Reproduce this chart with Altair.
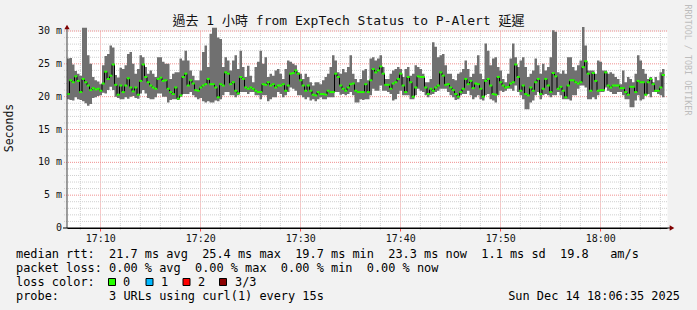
import altair as alt
import pandas as pd

# ---------------- data ----------------
START = pd.Timestamp("2025-12-14 17:06:40")
STEP_S = 15

median_ms = [
    20.4, 22.5, 22.2, 23.1, 22.4, 20.7, 22.7, 22.2, 21.7, 21.0,
    21.3, 21.1, 21.2, 20.9, 22.0, 23.8, 22.7, 23.2, 24.9, 21.8,
    20.3, 21.7, 20.7, 21.7, 22.8, 21.4, 20.8, 21.4, 20.3, 22.4,
    24.9, 23.0, 22.2, 21.7, 21.4, 21.2, 22.7, 22.9, 22.4, 22.5,
    21.2, 20.7, 20.4, 21.4, 19.7, 20.2, 23.0, 23.5, 21.7, 22.5,
    22.0, 21.0, 20.9, 21.4, 21.7, 21.9, 22.7, 21.9, 21.9, 21.4,
    19.9, 21.9, 21.7, 23.7, 23.5, 21.9, 22.2, 20.9, 20.5, 23.0,
    22.7, 21.4, 21.2, 21.4, 21.2, 20.9, 20.7, 20.7, 21.9, 21.8,
    22.2, 21.7, 21.9, 21.4, 21.7, 21.7, 21.9, 20.9, 21.7, 23.5,
    23.6, 24.0, 23.5, 22.5, 21.7, 20.9, 21.7, 20.9, 20.3, 20.2,
    20.7, 20.4, 20.4, 20.3, 20.9, 20.7, 20.7, 23.5, 23.0, 21.7,
    21.2, 20.9, 21.4, 21.9, 22.0, 20.9, 20.7, 20.7, 20.7, 21.9,
    20.7, 22.5, 24.2, 23.7, 24.0, 24.6, 23.5, 21.8, 21.8, 21.2,
    22.0, 22.2, 22.7, 23.5, 21.7, 20.7, 23.0, 22.2, 20.0, 21.4,
    23.1, 23.0, 23.0, 21.4, 20.4, 21.2, 20.9, 21.4, 21.7, 23.7,
    23.2, 21.8, 21.9, 21.4, 21.0, 20.4, 20.0, 20.7, 21.2, 22.7,
    21.9, 22.4, 21.3, 22.0, 21.9, 21.2, 20.0, 22.4, 22.7, 21.7,
    20.4, 20.3, 23.0, 22.2, 21.7, 21.4, 21.5, 22.0, 22.2, 24.9,
    23.0, 20.9, 21.7, 20.4, 20.2, 21.4, 20.9, 22.2, 22.7, 20.4,
    21.2, 22.7, 21.7, 20.7, 23.6, 23.1, 21.2, 21.5, 20.9, 19.9,
    21.7, 22.5, 22.5, 22.2, 22.0, 22.2, 24.5, 25.4, 23.5, 20.9,
    23.6, 22.4, 20.9, 21.0, 21.0, 23.7, 21.7, 21.4, 21.7, 21.7,
    21.7, 21.3, 21.3, 20.7, 20.3, 21.5, 21.5, 20.7, 22.4, 22.2,
    22.2, 20.3, 22.2, 22.7, 21.9, 20.9, 20.9, 21.4, 23.3,
]

low_ms = [
    19.6, 19.5, 19.4, 19.9, 19.6, 19.5, 19.3, 19.0, 18.6, 18.9,
    19.8, 19.9, 20.1, 20.2, 20.6, 20.5, 21.0, 21.5, 21.0, 20.0,
    19.8, 19.6, 19.6, 19.9, 19.7, 20.0, 20.1, 19.8, 19.7, 20.5,
    21.0, 20.5, 19.8, 19.6, 19.6, 19.9, 20.5, 20.5, 20.0, 20.0,
    19.1, 19.5, 19.6, 19.6, 19.5, 20.0, 20.4, 20.4, 20.4, 20.7,
    20.2, 19.9, 19.6, 19.8, 19.3, 19.1, 19.3, 19.1, 19.1, 19.4,
    19.3, 19.6, 20.2, 20.7, 20.7, 20.2, 20.2, 19.9, 20.2, 20.7,
    20.7, 20.7, 20.4, 20.7, 20.7, 20.2, 20.2, 19.6, 20.2, 20.2,
    19.3, 19.6, 19.9, 19.9, 20.7, 20.4, 19.9, 20.2, 20.7, 21.4,
    21.2, 20.9, 20.2, 20.2, 19.9, 19.6, 19.9, 19.4, 19.6, 19.3,
    19.6, 19.9, 19.6, 19.6, 19.9, 19.9, 19.9, 20.7, 20.7, 20.3,
    20.4, 20.2, 20.4, 20.7, 20.2, 19.1, 19.1, 19.6, 19.5, 19.6,
    19.6, 20.2, 21.2, 20.9, 20.9, 21.7, 20.9, 20.9, 20.7, 20.4,
    19.4, 19.6, 20.4, 20.9, 20.2, 20.2, 20.2, 19.6, 19.6, 20.2,
    21.2, 20.9, 20.7, 20.2, 19.9, 20.3, 20.4, 20.7, 20.9, 21.2,
    21.2, 21.2, 20.7, 20.2, 19.9, 19.5, 19.6, 20.2, 20.4, 20.4,
    20.9, 20.2, 19.6, 19.9, 20.2, 19.6, 19.4, 20.2, 20.4, 19.6,
    19.4, 19.1, 20.2, 20.9, 20.7, 20.9, 21.2, 21.2, 20.9, 21.7,
    20.7, 20.2, 19.6, 18.1, 18.1, 19.1, 19.4, 20.2, 20.7, 19.6,
    20.2, 20.4, 20.2, 19.9, 20.2, 20.2, 20.7, 20.2, 19.6, 19.6,
    19.6, 19.4, 20.2, 20.2, 21.2, 21.7, 21.7, 21.4, 19.6, 19.6,
    19.9, 19.6, 20.2, 20.7, 20.7, 21.4, 20.9, 20.7, 20.4, 20.4,
    20.7, 20.7, 20.2, 19.6, 19.6, 18.4, 18.4, 19.4, 20.2, 19.4,
    19.6, 20.2, 20.4, 19.9, 20.7, 20.7, 20.4, 20.2, 19.9,
]

high_ms = [
    25.8, 25.9, 24.9, 23.9, 23.5, 23.2, 30.5, 30.5, 26.3, 25.0,
    23.0, 22.5, 22.3, 21.9, 24.8, 26.2, 26.5, 27.8, 27.5, 23.3,
    22.9, 24.4, 24.2, 24.8, 26.5, 26.8, 25.0, 23.5, 24.2, 26.3,
    26.0, 24.5, 23.5, 24.0, 23.5, 23.0, 26.0, 26.0, 25.3, 25.0,
    25.0, 22.7, 23.5, 23.7, 23.7, 25.8, 25.5, 27.0, 25.5, 24.0,
    23.2, 22.5, 22.5, 24.0, 26.8, 27.8, 24.5, 29.6, 30.5, 30.5,
    29.0, 28.8, 24.5, 26.0, 25.5, 24.0, 25.5, 26.3, 24.2, 27.0,
    24.5, 23.0, 24.7, 23.2, 22.2, 24.5, 25.3, 27.0, 25.0, 26.0,
    23.0, 23.5, 23.2, 24.0, 24.2, 23.5, 22.7, 24.2, 25.5, 25.3,
    25.0, 24.8, 23.7, 23.5, 22.7, 23.5, 23.0, 22.2, 21.7, 22.2,
    22.2, 21.9, 22.5, 23.0, 23.5, 24.5, 26.3, 25.5, 23.7, 23.5,
    24.2, 23.7, 24.5, 26.3, 23.5, 22.7, 22.2, 22.7, 24.0, 24.2,
    22.5, 25.8, 26.0, 25.5, 25.8, 26.3, 24.5, 22.7, 22.7, 23.5,
    24.0, 24.2, 24.5, 24.2, 23.0, 24.2, 24.5, 23.2, 23.5, 24.8,
    24.5, 24.2, 23.5, 22.2, 22.2, 22.7, 28.3, 27.6, 26.0, 26.3,
    26.5, 24.8, 23.5, 23.5, 22.7, 22.5, 23.5, 23.7, 24.2, 25.5,
    24.2, 23.0, 23.5, 24.8, 26.3, 23.5, 22.7, 28.1, 27.0, 24.8,
    25.8, 26.0, 24.5, 24.0, 22.7, 22.2, 23.5, 25.8, 28.1, 26.0,
    24.5, 25.5, 26.0, 24.5, 23.0, 23.5, 24.0, 25.8, 24.8, 23.5,
    25.0, 24.0, 24.5, 26.0, 30.1, 29.9, 23.7, 23.5, 24.0, 23.5,
    26.0, 26.0, 24.5, 24.0, 24.8, 25.5, 30.6, 27.8, 24.0, 24.0,
    24.0, 23.5, 25.5, 25.3, 24.0, 24.0, 23.5, 23.7, 23.5, 23.0,
    22.7, 21.9, 24.0, 22.2, 23.0, 22.7, 22.2, 23.5, 26.3, 25.5,
    24.2, 23.5, 22.7, 23.0, 22.2, 23.0, 22.5, 23.7, 24.2,
]

y_major = [0, 5, 10, 15, 20, 25, 30]
y_labels = ["0", "5 m", "10 m", "15 m", "20 m", "25 m", "30 m"]
y_minor = [v for v in range(1, 30) if v % 5 != 0]
x_major_min = [10, 20, 30, 40, 50, 60]          # minutes after 17:00
x_minor_min = [m for m in range(8, 67, 2) if m % 10 != 0]

title_text = "過去 1 小時 from ExpTech Status to P-Alert 延遲"
legend_rtt = "median rtt:  21.7 ms avg  25.4 ms max  19.7 ms min  23.3 ms now  1.1 ms sd  19.8   am/s"
legend_loss = "packet loss: 0.00 % avg  0.00 % max  0.00 % min  0.00 % now"
legend_color_label = "loss color:"
loss_labels = ["0", "1", "2", "3/3"]
loss_colors = ["#26ff00", "#00b8ff", "#ff0000", "#8b0000"]
legend_probe = "probe:       3 URLs using curl(1) every 15s"
stamp_text = "Sun Dec 14 18:06:35 2025"
side_text = "RRDTOOL / TOBI OETIKER"
y_title = "Seconds"

# ---------------- frames ----------------
n = min(len(median_ms), len(low_ms), len(high_ms))
times = [START + pd.Timedelta(seconds=STEP_S * i) for i in range(n)]
df = pd.DataFrame({"t": times, "med": median_ms[:n], "lo": low_ms[:n], "hi": high_ms[:n]})
df["tc"] = df["t"] + pd.Timedelta(seconds=STEP_S / 2)
tail = df.iloc[[-1]].copy()
tail["t"] = START + pd.Timedelta(seconds=STEP_S * n)
df_step = pd.concat([df, tail], ignore_index=True)

BASE_T = pd.Timestamp("2025-12-14 17:00:00")
df_yminor = pd.DataFrame({"v": y_minor})
df_ymajor = pd.DataFrame({"v": y_major, "lab": y_labels})
df_ymajor_grid = df_ymajor[df_ymajor["v"] > 0]
df_xminor = pd.DataFrame({"t": [BASE_T + pd.Timedelta(minutes=m) for m in x_minor_min]})

ONE = pd.DataFrame({"k": [0]})
MONO = "DejaVu Sans Mono"
TITLE_FONT = "DejaVu Sans Mono, Noto Sans CJK TC"
MAJOR = "#f09090"
MINOR = "#cfcfcf"


def dt(h, m, s=0):
    return alt.DateTime(year=2025, month=12, date=14, hours=h, minutes=m, seconds=s)


x_vals = [dt(17 + m // 60, m % 60) for m in x_major_min]

x_scale = alt.Scale(domain=[dt(17, 6, 40), dt(18, 6, 40)])
y_scale = alt.Scale(domain=[0, 30], nice=False, zero=False)

x_axis = alt.Axis(
    values=x_vals,
    format="%H:%M",
    labelOverlap=False,
    labelFlush=False,
    labelFont=MONO,
    labelFontSize=10,
    labelColor="#111111",
    labelPadding=2,
    grid=True,
    gridColor=MAJOR,
    gridDash=[1, 1],
    tickSize=3,
    tickColor="#ff5050",
    domainColor="#000000",
    title=None,
)


def X(field):
    return alt.X(field, scale=x_scale, axis=x_axis)


def Y(field):
    return alt.Y(field, scale=y_scale, axis=None)


# minor grid (gray dotted) and major horizontal grid (red dotted), drawn as rules
yminor = alt.Chart(df_yminor).mark_rule(color=MINOR, strokeDash=[1, 1], strokeWidth=1).encode(
    y=Y("v:Q"), x=alt.value(-3), x2=alt.value(600))
xminor = alt.Chart(df_xminor).mark_rule(color=MINOR, strokeDash=[1, 1], strokeWidth=1).encode(
    x=X("t:T"), y=alt.value(0), y2=alt.value(200))
ymajor = alt.Chart(df_ymajor_grid).mark_rule(color=MAJOR, strokeDash=[1, 1], strokeWidth=1).encode(
    y=Y("v:Q"), x=alt.value(-3), x2=alt.value(600))
ylabels = alt.Chart(df_ymajor).mark_text(
    align="right", baseline="middle", font=MONO, fontSize=10, color="#111111"
).encode(y=Y("v:Q"), x=alt.value(-5), text="lab:N")

smoke = alt.Chart(df_step).mark_area(interpolate="step-after", color="#707070").encode(
    x=X("t:T"), y=Y("hi:Q"), y2="lo:Q")

median_line = alt.Chart(df_step).mark_line(
    interpolate="step-after", color="#000000", strokeWidth=1
).encode(x=X("t:T"), y=Y("med:Q"))

median_marks = alt.Chart(df).mark_tick(
    orient="horizontal", size=3, thickness=2, color="#26ff00", opacity=1
).encode(x=X("tc:T"), y=Y("med:Q"))

yline = alt.Chart(ONE).mark_rule(color="#444444", strokeWidth=1).encode(
    x=alt.value(0), y=alt.value(-3), y2=alt.value(197))
xline = alt.Chart(ONE).mark_rule(color="#000000", strokeWidth=1).encode(
    y=alt.value(197), x=alt.value(-4), x2=alt.value(603))
arrow_up = alt.Chart(ONE).mark_point(
    shape="triangle-up", filled=True, fill="#7f0000", size=28, opacity=1, strokeWidth=0
).encode(x=alt.value(0), y=alt.value(-4))
arrow_right = alt.Chart(ONE).mark_point(
    shape="triangle-right", filled=True, fill="#7f0000", size=28, opacity=1, strokeWidth=0
).encode(x=alt.value(605), y=alt.value(197))


def text(txt, x, y, size=11.9, align="left", color="#000000", angle=0, font=MONO):
    return alt.Chart(ONE).mark_text(
        text=txt, align=align, baseline="middle", font=font, fontSize=size,
        color=color, angle=angle,
    ).encode(x=alt.value(x), y=alt.value(y))


def nb(s):
    return s.replace(" ", "\u00a0")


layers = [
    yminor, xminor, ymajor, ylabels, smoke, median_line, median_marks,
    yline, xline, arrow_up, arrow_right,
    text(title_text, 281.5, -10, size=13, align="center", font=TITLE_FONT, color="#111111"),
    text(side_text, 621, 29, size=8.4, align="center", color="#bdbdbd", angle=90),
    text(y_title, -57, 97, size=11.5, align="center", color="#111111", angle=270),
    text(nb(legend_rtt), -51, 223),
    text(nb(legend_loss), -51, 237),
    text(nb(legend_color_label), -51, 251),
    text(nb(legend_probe), -51, 265),
    text(stamp_text, 613, 265, align="right"),
]

sq_x = [45, 82.5, 119.5, 156]
lab_x = [56, 94, 131, 168]
for c, lab, sx, lx in zip(loss_colors, loss_labels, sq_x, lab_x):
    layers.append(
        alt.Chart(ONE).mark_square(size=49, filled=True, fill=c, stroke="#000000",
                                   strokeWidth=1, opacity=1)
        .encode(x=alt.value(sx), y=alt.value(251))
    )
    layers.append(text(lab, lx, 251))

chart = alt.layer(*layers).properties(
    width=600,
    height=197,
    padding={"left": 67, "top": 31, "right": 30, "bottom": 82},
    autosize="none",
    background="#f2f2f2",
).configure_view(fill="#ffffff", stroke="transparent")

chart.save("out.html", embed_options={"renderer": "svg", "actions": False})
